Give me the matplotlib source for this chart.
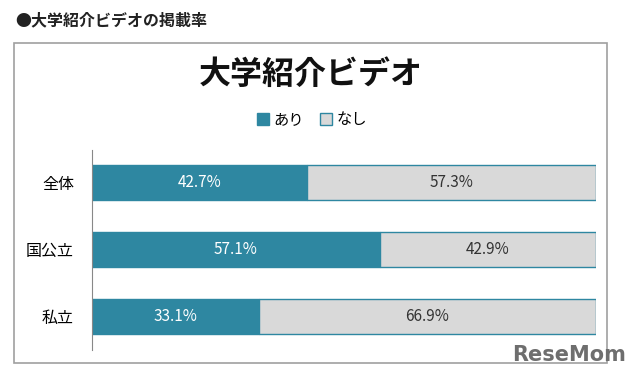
import matplotlib.pyplot as plt
from matplotlib.patches import Rectangle

plt.rcParams['font.family'] = ['Noto Sans CJK JP', 'DejaVu Sans']

categories = ["全体", "国公立", "私立"]
ari = [42.7, 57.1, 33.1]
nashi = [57.3, 42.9, 66.9]
series_names = ["あり", "なし"]

teal = "#2E87A1"
grey = "#D9D9D9"

W, H = 640, 378
fig = plt.figure(figsize=(W / 100, H / 100), dpi=100)

# outer frame of the chart
fig.patches.append(Rectangle((14 / W, 1 - 363 / H), (607 - 14) / W, (363 - 43) / H,
                             transform=fig.transFigure, fill=False,
                             edgecolor="#A0A0A0", linewidth=1.2))

fig.text(15 / W, 1 - 20 / H, "●大学紹介ビデオの掲載率", fontsize=11.5,
         fontweight="bold", va="center", ha="left", color="#222222")
fig.text(311 / W, 1 - 75 / H, "大学紹介ビデオ", fontsize=23,
         fontweight="bold", va="center", ha="center", color="#111111")

ax = fig.add_axes([92 / W, 1 - 350 / H, (596 - 92) / W, 200 / H])
pos = list(range(len(categories)))
b1 = ax.barh(pos, ari, height=0.52, color=teal, edgecolor=teal, linewidth=1,
             label=series_names[0])
b2 = ax.barh(pos, nashi, left=ari, height=0.52, color=grey, edgecolor=teal,
             linewidth=1, label=series_names[1])

for i in pos:
    ax.text(ari[i] / 2, i, f"{ari[i]:.1f}%", color="white", fontsize=11,
            ha="center", va="center")
    ax.text(ari[i] + nashi[i] / 2, i, f"{nashi[i]:.1f}%", color="#333333",
            fontsize=11, ha="center", va="center")

ax.set_xlim(0, 100)
ax.set_ylim(2.5, -0.48)
ax.set_yticks(pos)
ax.set_yticklabels(categories, fontsize=11.5)
ax.set_xticks([])
ax.tick_params(axis="y", length=0, pad=13)
for s in ["top", "right", "bottom"]:
    ax.spines[s].set_visible(False)
ax.spines["left"].set_color("#888888")

fig.legend(handles=[b1, b2], loc="center", bbox_to_anchor=(312 / W, 1 - 120 / H),
           ncol=2, frameon=False, fontsize=11, handlelength=0.8,
           handleheight=0.8, handletextpad=0.3, columnspacing=1.0)

fig.text(626 / W, 1 - 355 / H, "ReseMom", fontsize=15, fontweight="bold",
         color="#6E6E6E", ha="right", va="center", family="DejaVu Sans")

fig.savefig("out.png", dpi=100)
